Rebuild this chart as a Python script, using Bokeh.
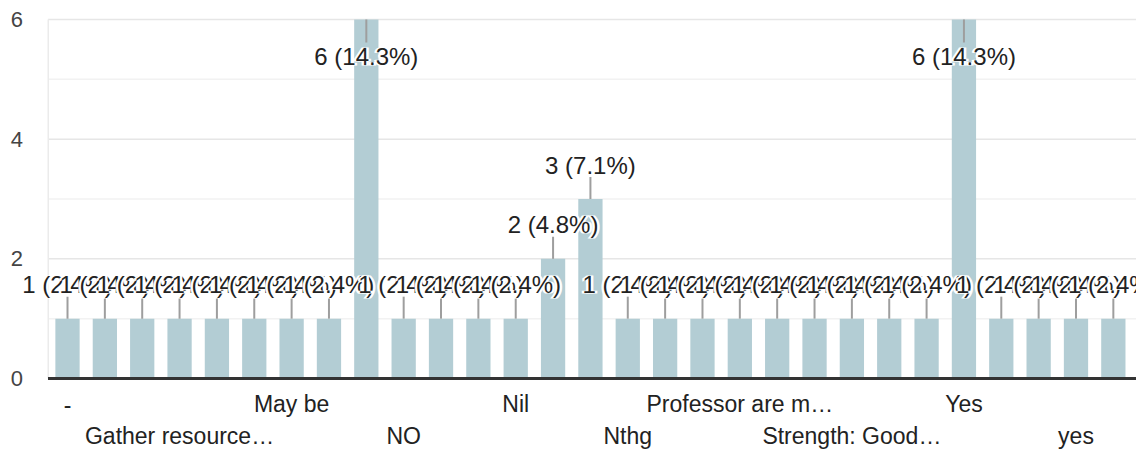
from bokeh.plotting import figure
from bokeh.models import Range1d, FixedTicker
from bokeh.core.properties import value
from bokeh.embed import file_html
from bokeh.resources import INLINE

# ---- data ----
categories = ["-", "", "", "Gather resource…", "", "", "May be", "", "", "NO",
              "", "", "Nil", "", "", "Nthg", "", "", "Professor are m…", "",
              "", "Strength: Good…", "", "", "Yes", "", "", "yes", ""]
counts = [1, 1, 1, 1, 1, 1, 1, 1, 6, 1, 1, 1, 1, 2, 3, 1, 1, 1, 1, 1, 1, 1, 1, 1, 6, 1, 1, 1, 1]
y_ticks = [0, 2, 4, 6]
y_minor = [1, 3, 5]

total = sum(counts)
FONT = "Liberation Sans"
W, H = 1136, 452
Y0, Y1 = -1.237, 6.318
X0, X1 = -1.794, 28.62      # full canvas width
XL = -0.522                 # left edge of the plotting area
PXU = H / (Y1 - Y0)

xs = list(range(len(counts)))
labels = [f"{c} ({100 * c / total:.1f}%)" for c in counts]
ymax = max(y_ticks)

p = figure(width=W, height=H, output_backend="svg", toolbar_location=None,
           x_range=Range1d(X0, X1), y_range=Range1d(Y0, Y1),
           min_border_left=0, min_border_right=0, min_border_top=0, min_border_bottom=0)
p.outline_line_color = None
p.background_fill_color = "white"
p.border_fill_color = "white"
p.xaxis.visible = False
p.xgrid.visible = False
p.ygrid.visible = False

p.yaxis.ticker = FixedTicker(ticks=y_ticks, minor_ticks=y_minor)
p.yaxis.fixed_location = XL
p.yaxis.axis_line_color = None
p.yaxis.major_tick_line_color = None
p.yaxis.minor_tick_line_color = None
p.yaxis.major_tick_out = 0
p.yaxis.minor_tick_out = 0
p.yaxis.major_label_standoff = 25
p.yaxis.major_label_text_font = FONT
p.yaxis.major_label_text_font_size = "22px"
p.yaxis.major_label_text_color = "#444444"

# grid lines (start at the plotting area's left edge)
p.segment(x0=[XL] * len(y_minor), y0=y_minor, x1=[X1] * len(y_minor), y1=y_minor,
          line_color="#f2f2f2", line_width=1.5)
p.segment(x0=[XL] * len(y_ticks), y0=y_ticks, x1=[X1] * len(y_ticks), y1=y_ticks,
          line_color="#e6e6e6", line_width=1.5)
p.segment(x0=[XL + 0.007], y0=[0], x1=[XL + 0.007], y1=[ymax], line_color="#ebebeb", line_width=1.5)

p.vbar(x=xs, top=counts, width=0.65, fill_color="#b3cdd4", line_color=None)

# baseline
p.segment(x0=[XL], y0=[0], x1=[X1], y1=[0], line_color="#333333", line_width=3)

# stems and value labels
stem_up = 22 / PXU
stem_dn = 23 / PXU
y1s = [c - stem_dn if c >= ymax else c + stem_up for c in counts]
offs = [37 if c >= ymax else -34 for c in counts]
p.segment(x0=xs, y0=counts, x1=xs, y1=y1s, line_color="#9e9e9e", line_width=2)

for x, c, lab, off in zip(xs, counts, labels, offs):
    common = dict(x=[x], y=[c], text=[lab], y_offset=off, text_align="center",
                  text_baseline="middle", text_font=value(FONT), text_font_size="24px")
    # white halo underneath, then the dark label
    for dx in (-2, 2):
        p.text(text_color="white", text_outline_color="white", x_offset=dx, **common)
    p.text(text_color="#222222", **common)

# category labels, staggered in two rows
r1x = [i for i, s in enumerate(categories) if s and i % 6 == 0]
r2x = [i for i, s in enumerate(categories) if s and i % 6 == 3]
p.text(x=r1x, y=[0] * len(r1x), text=[categories[i] for i in r1x], y_offset=26,
       text_align="center", text_baseline="middle", text_font=value(FONT),
       text_font_size="23px", text_color="#222222")
p.text(x=r2x, y=[0] * len(r2x), text=[categories[i] for i in r2x], y_offset=58,
       text_align="center", text_baseline="middle", text_font=value(FONT),
       text_font_size="23px", text_color="#222222")

open("out.html", "w").write(file_html(p, INLINE))
